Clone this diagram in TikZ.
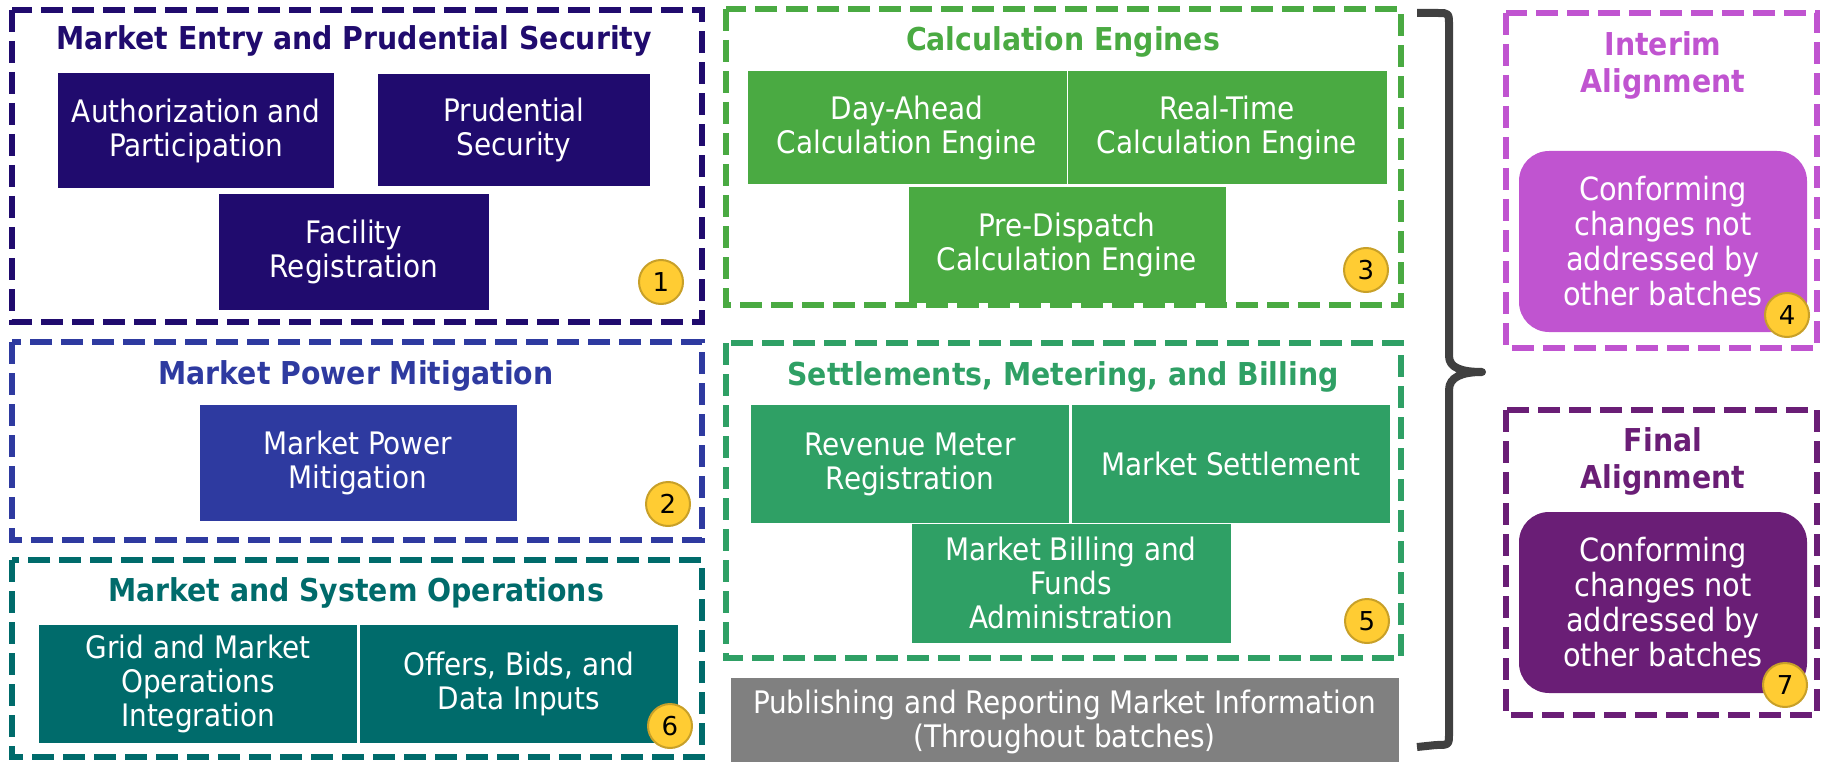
\documentclass[tikz,border=0pt]{standalone}
\usepackage{fontspec}
\setmainfont{DejaVu Sans}
\newfontfamily\boxfont{DejaVu Sans Condensed}
\newfontfamily\headfont{DejaVu Sans Condensed}
\usetikzlibrary{positioning}

\definecolor{navy}{RGB}{32,11,110}
\definecolor{mpmblue}{RGB}{46,58,160}
\definecolor{opsteal}{RGB}{0,107,107}
\definecolor{calcgreen}{RGB}{74,170,66}
\definecolor{settlegreen}{RGB}{47,160,101}
\definecolor{pubgray}{RGB}{128,128,128}
\definecolor{interimpink}{RGB}{192,84,208}
\definecolor{finalpurple}{RGB}{106,30,118}
\definecolor{badgefill}{RGB}{255,204,51}
\definecolor{badgeline}{RGB}{200,160,40}
\definecolor{bracegray}{RGB}{64,64,64}

\tikzset{
  batch/.style={draw=#1, line width=6pt, dash pattern=on 22pt off 9pt},
  item/.style={fill=#1, draw=white, line width=1pt, text=white, align=center,
    font=\boxfont\fontsize{31}{34}\selectfont, inner sep=0pt},
  roundcard/.style={fill=#1, rounded corners=30pt, text=white, align=center,
    font=\headfont\fontsize{32}{35}\selectfont, inner sep=0pt,
    minimum width=288pt, minimum height=181pt},
  head/.style={text=#1, font=\headfont\bfseries\fontsize{31.5}{37}\selectfont, align=center},
  badge/.style={circle, fill=badgefill, draw=badgeline, line width=2pt,
    minimum size=44pt, inner sep=0pt, font=\fontsize{26}{26}\selectfont},
}

\begin{document}
\begin{tikzpicture}[x=1pt,y=-1pt]
  \useasboundingbox (0,0) rectangle (1825,762);

  % batch 1
  \node[head=navy] (t1) at (354,41) {Market Entry and Prudential Security};
  \node[item=navy, minimum width=277pt, minimum height=116pt] (auth) at (196,131) {Authorization and\\Participation};
  \node[item=navy, minimum width=273pt, minimum height=113pt] (prud) at (514,130) {Prudential\\Security};
  \node[item=navy, minimum width=271pt, minimum height=117pt] (facil) at (354,252) {Facility\\Registration};
  \draw[batch=navy] (12,10) rectangle (702,322);
  \node[badge] (b1) at (661,282) {1};

  % batch 2
  \node[head=mpmblue] (t2) at (356,376) {Market Power Mitigation};
  \node[item=mpmblue, minimum width=318pt, minimum height=117pt] (mpm) at (358,463) {Market Power\\Mitigation};
  \draw[batch=mpmblue] (12,342) rectangle (702,540);
  \node[badge] (b2) at (668,504) {2};

  % batch 6
  \node[head=opsteal] (t6) at (356,593) {Market and System Operations};
  \node[item=opsteal, minimum width=319pt, minimum height=119pt] (grid) at (198,684) {Grid and Market\\Operations\\Integration};
  \node[item=opsteal, minimum width=319pt, minimum height=119pt] (offers) at (519,684) {Offers, Bids, and\\Data Inputs};
  \draw[batch=opsteal] (12,560) rectangle (702,757);
  \node[badge] (b6) at (670,726) {6};

  % batch 3
  \node[head=calcgreen] (t3) at (1063,42) {Calculation Engines};
  \node[item=calcgreen, minimum width=320pt, minimum height=114pt] (dayahead) at (907,128) {Day-Ahead\\Calculation Engine};
  \node[item=calcgreen, minimum width=320pt, minimum height=114pt] (realtime) at (1227,128) {Real-Time\\Calculation Engine};
  \node[item=calcgreen, minimum width=318pt, minimum height=116pt] (predisp) at (1067,245) {Pre-Dispatch\\Calculation Engine};
  \draw[batch=calcgreen] (726,9) rectangle (1401,305);
  \node[badge] (b3) at (1366,270) {3};

  % batch 5
  \node[head=settlegreen] (t5) at (1063,377) {Settlements, Metering, and Billing};
  \node[item=settlegreen, minimum width=319pt, minimum height=119pt] (revmeter) at (910,464) {Revenue Meter\\Registration};
  \node[item=settlegreen, minimum width=319pt, minimum height=119pt] (settle) at (1231,464) {Market Settlement};
  \node[item=settlegreen, minimum width=320pt, minimum height=120pt] (billing) at (1071,583) {Market Billing and\\Funds\\Administration};
  \draw[batch=settlegreen] (726,343) rectangle (1401,658);
  \node[badge] (b5) at (1367,621) {5};

  % publishing
  \node[item=pubgray, minimum width=669pt, minimum height=90pt] (publish) at (1064.5,722) {Publishing and Reporting Market Information\\(Throughout batches)};

  % brace
  \draw[bracegray, line width=8pt, line join=round]
    (1417,13) -- (1438,13) .. controls (1449,13) .. (1449,26) -- (1449,356)
    .. controls (1449,368) and (1462,372) .. (1482,372)
    .. controls (1462,372) and (1449,377) .. (1449,390) -- (1449,733)
    .. controls (1449,745) .. (1436,745) -- (1417,747);

  % interim
  \node[head=interimpink] (t4) at (1663,65) {Interim\\Alignment};
  \node[roundcard=interimpink] (interim) at (1663,241.5) {Conforming\\changes not\\addressed by\\other batches};
  \draw[batch=interimpink] (1506,13) rectangle (1817,348);
  \node[badge] (b4) at (1787,315) {4};

  % final
  \node[head=finalpurple] (t7) at (1663,461) {Final\\Alignment};
  \node[roundcard=finalpurple] (final) at (1663,602.5) {Conforming\\changes not\\addressed by\\other batches};
  \draw[batch=finalpurple] (1506,410) rectangle (1817,715);
  \node[badge] (b7) at (1785,685) {7};
\end{tikzpicture}
\end{document}
